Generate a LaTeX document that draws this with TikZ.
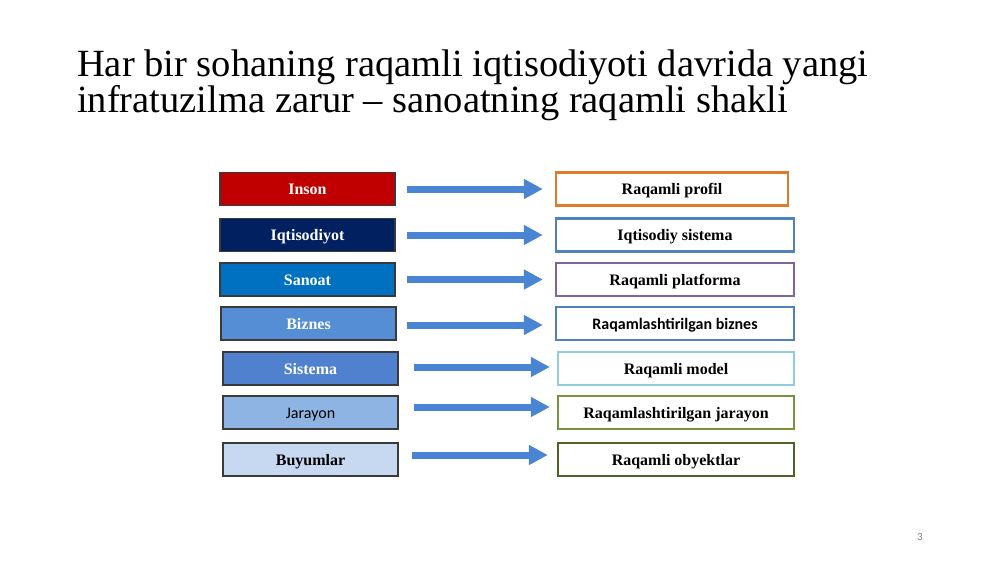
\documentclass[tikz,border=0pt]{standalone}
\usepackage{fontspec}
\setmainfont{Liberation Serif}
\newfontfamily\calib{Carlito}
\usetikzlibrary{arrows.meta}
\definecolor{cInson}{HTML}{C00000}
\definecolor{cIqt}{HTML}{002060}
\definecolor{cSan}{HTML}{0070C0}
\definecolor{cBiz}{HTML}{558ED5}
\definecolor{cSis}{HTML}{4F81CF}
\definecolor{cJar}{HTML}{8DB4E2}
\definecolor{cBuy}{HTML}{C6D9F1}
\definecolor{bOrange}{HTML}{E07B2A}
\definecolor{bBlue}{HTML}{4F81BD}
\definecolor{bPurple}{HTML}{8064A2}
\definecolor{bLight}{HTML}{92CDDC}
\definecolor{bOlive}{HTML}{77933C}
\definecolor{bDark}{HTML}{4F6228}
\definecolor{arrowblue}{HTML}{4A85D3}
\definecolor{lborder}{HTML}{3A3A3A}
\tikzset{
  leftbox/.style={draw=lborder, line width=1.4pt, minimum width=175pt, minimum height=33pt,
    inner sep=0pt, text height=11pt, text depth=0pt,
    font=\fontsize{16}{18}\selectfont\bfseries, text=white},
  rightbox/.style={line width=2.4pt, fill=white, minimum height=33pt,
    inner sep=0pt, text height=11pt, text depth=0pt,
    font=\fontsize{16}{18}\selectfont\bfseries, text=black},
  bigarrow/.style={draw=arrowblue, line width=7pt, -{Triangle[length=19pt,width=19pt]}},
  titletext/.style={anchor=base west, inner sep=0pt, font=\fontsize{38.5}{36}\selectfont}
}
\begin{document}
\begin{tikzpicture}[x=1pt,y=-1pt]
\useasboundingbox (0,0) rectangle (1000,562);
\fill[white] (0,0) rectangle (1000,562);
% title
\node[titletext] (t1) at (77,76) {Har bir sohaning raqamli iqtisodiyoti davrida yangi};
\node[titletext] (t2) at (77,112) {infratuzilma zarur -- sanoatning raqamli shakli};
% left boxes
\node[leftbox, fill=cInson] (l1) at (307.5,189) {Inson};
\node[leftbox, fill=cIqt] (l2) at (307.5,235) {Iqtisodiyot};
\node[leftbox, fill=cSan] (l3) at (307.5,279.5) {Sanoat};
\node[leftbox, fill=cBiz] (l4) at (308.5,323.5) {Biznes};
\node[leftbox, fill=cSis] (l5) at (310.5,368.5) {Sistema};
\node[leftbox, fill=cJar, text=black, font=\fontsize{16}{18}\selectfont\calib] (l6) at (310.5,412.5) {Jarayon};
\node[leftbox, fill=cBuy, text=black] (l7) at (310.5,459.5) {Buyumlar};
% right boxes
\node[rightbox, draw=bOrange, minimum width=232pt] (r1) at (672,189) {Raqamli profil};
\node[rightbox, draw=bBlue, minimum width=238pt] (r2) at (675,235) {Iqtisodiy sistema};
\node[rightbox, draw=bPurple, minimum width=238pt] (r3) at (675,279.5) {Raqamli platforma};
\node[rightbox, draw=bBlue, minimum width=238pt, font=\fontsize{16}{18}\selectfont\calib\bfseries] (r4) at (675,323.5) {Raqamlashtirilgan biznes};
\node[rightbox, draw=bLight, minimum width=236pt] (r5) at (676,368.5) {Raqamli model};
\node[rightbox, draw=bOlive, minimum width=236pt] (r6) at (676,412.5) {Raqamlashtirilgan jarayon};
\node[rightbox, draw=bDark, minimum width=236pt] (r7) at (676,459.5) {Raqamli obyektlar};
% arrows
\draw[bigarrow, shorten <=11pt, shorten >=12pt] (l1.east) -- (r1.west);
\draw[bigarrow, shorten <=11pt, shorten >=12pt] (l2.east) -- (r2.west);
\draw[bigarrow, shorten <=11pt, shorten >=12pt] (l3.east) -- (r3.west);
\draw[bigarrow, shorten <=10pt, shorten >=12pt] ([yshift=-1.5pt]l4.east) -- ([yshift=-1.5pt]r4.west);
\draw[bigarrow, shorten <=15pt, shorten >=7pt] ([yshift=1.5pt]l5.east) -- ([yshift=1.5pt]r5.west);
\draw[bigarrow, shorten <=15pt, shorten >=7pt] ([yshift=5.5pt]l6.east) -- ([yshift=5.5pt]r6.west);
\draw[bigarrow, shorten <=13pt, shorten >=9pt] ([yshift=4.5pt]l7.east) -- ([yshift=4.5pt]r7.west);
% page number
\node[inner sep=0pt, text=gray, font=\fontsize{11}{12}\selectfont\calib] (pg) at (920,537) {3};
\end{tikzpicture}
\end{document}
